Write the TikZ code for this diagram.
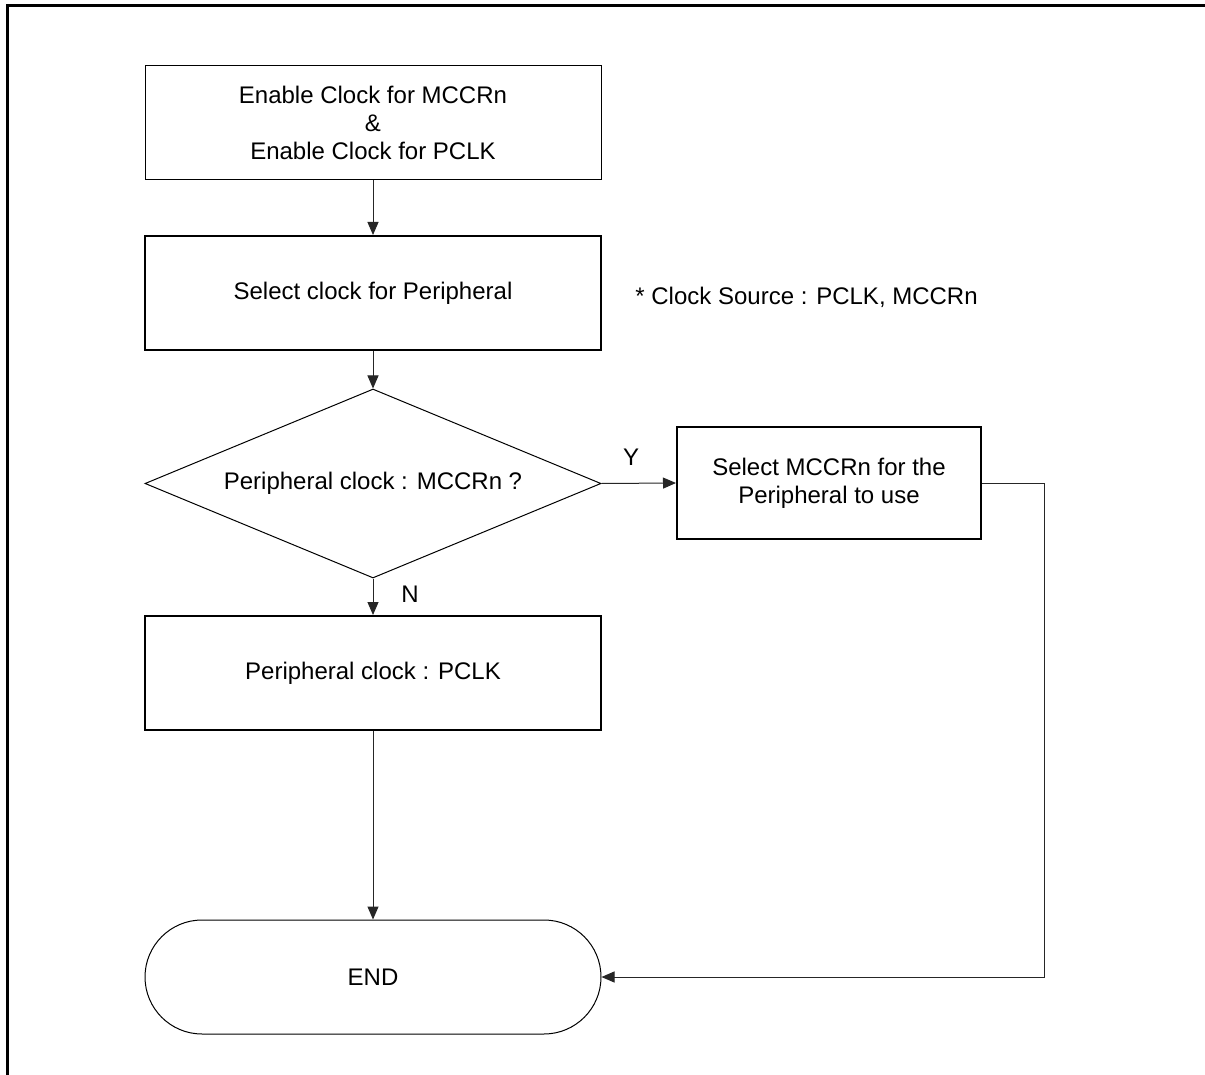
\documentclass[tikz,border=0pt]{standalone}
\usepackage{fontspec}
\setmainfont{Liberation Sans}
\usetikzlibrary{shapes.geometric,arrows.meta}
\begin{document}
\begin{tikzpicture}[x=0.5pt,y=-0.5pt,
  font=\fontsize{12}{14}\selectfont,
  base/.style={draw=black,align=center,inner sep=0pt,text=black},
  procthin/.style={base,line width=0.5pt,minimum width=228pt,minimum height=57pt},
  procthick/.style={base,line width=1pt,minimum width=228pt,minimum height=57pt},
  decision/.style={base,diamond,line width=0.5pt,aspect=2.4,minimum width=228pt,minimum height=94.5pt},
  terminal/.style={base,line width=0.5pt,rounded corners=28.5pt,minimum width=228pt,minimum height=57pt},
  flow/.style={draw=black!85,line width=0.5pt,-{Triangle[length=6.5pt,width=5.5pt]}},
  lbl/.style={inner sep=0pt,text=black}]
\useasboundingbox (0,0) rectangle (1205,1075);
\fill[white] (0,0) rectangle (1205,1075);
% outer frame (left and top edges)
\draw[line width=1.5pt] (7.5,1075) -- (7.5,5.5) -- (1205,5.5);

\node[procthin]  (enable) at (373,123) {Enable Clock for MCCRn\\\&\\Enable Clock for PCLK};
\node[procthick] (select) at (373,293) {Select clock for Peripheral};
\node[lbl,anchor=west] (note) at (635,297) {* Clock Source : PCLK, MCCRn};
\node[decision]  (dec) at (373,483.5) {Peripheral clock : MCCRn ?};
\node[procthick,minimum width=152pt,minimum height=56pt] (mccr) at (829,483) {Select MCCRn for the\\Peripheral to use};
\node[procthick] (pclk) at (373,673) {Peripheral clock : PCLK};
\node[terminal]  (endn) at (373,977) {END};

\node[lbl] (ylab) at (631,457) {Y};
\node[lbl] (nlab) at (410,594) {N};

\draw[flow] (enable) -- (select);
\draw[flow] (select) -- (dec);
\draw[flow] (dec.east) -- (mccr.west);
\draw[flow] (dec.south) -- (pclk.north);
\draw[flow] (pclk) -- (endn);
\draw[flow] (mccr.east) -- ++(62,0) |- (endn.east);
\end{tikzpicture}
\end{document}
